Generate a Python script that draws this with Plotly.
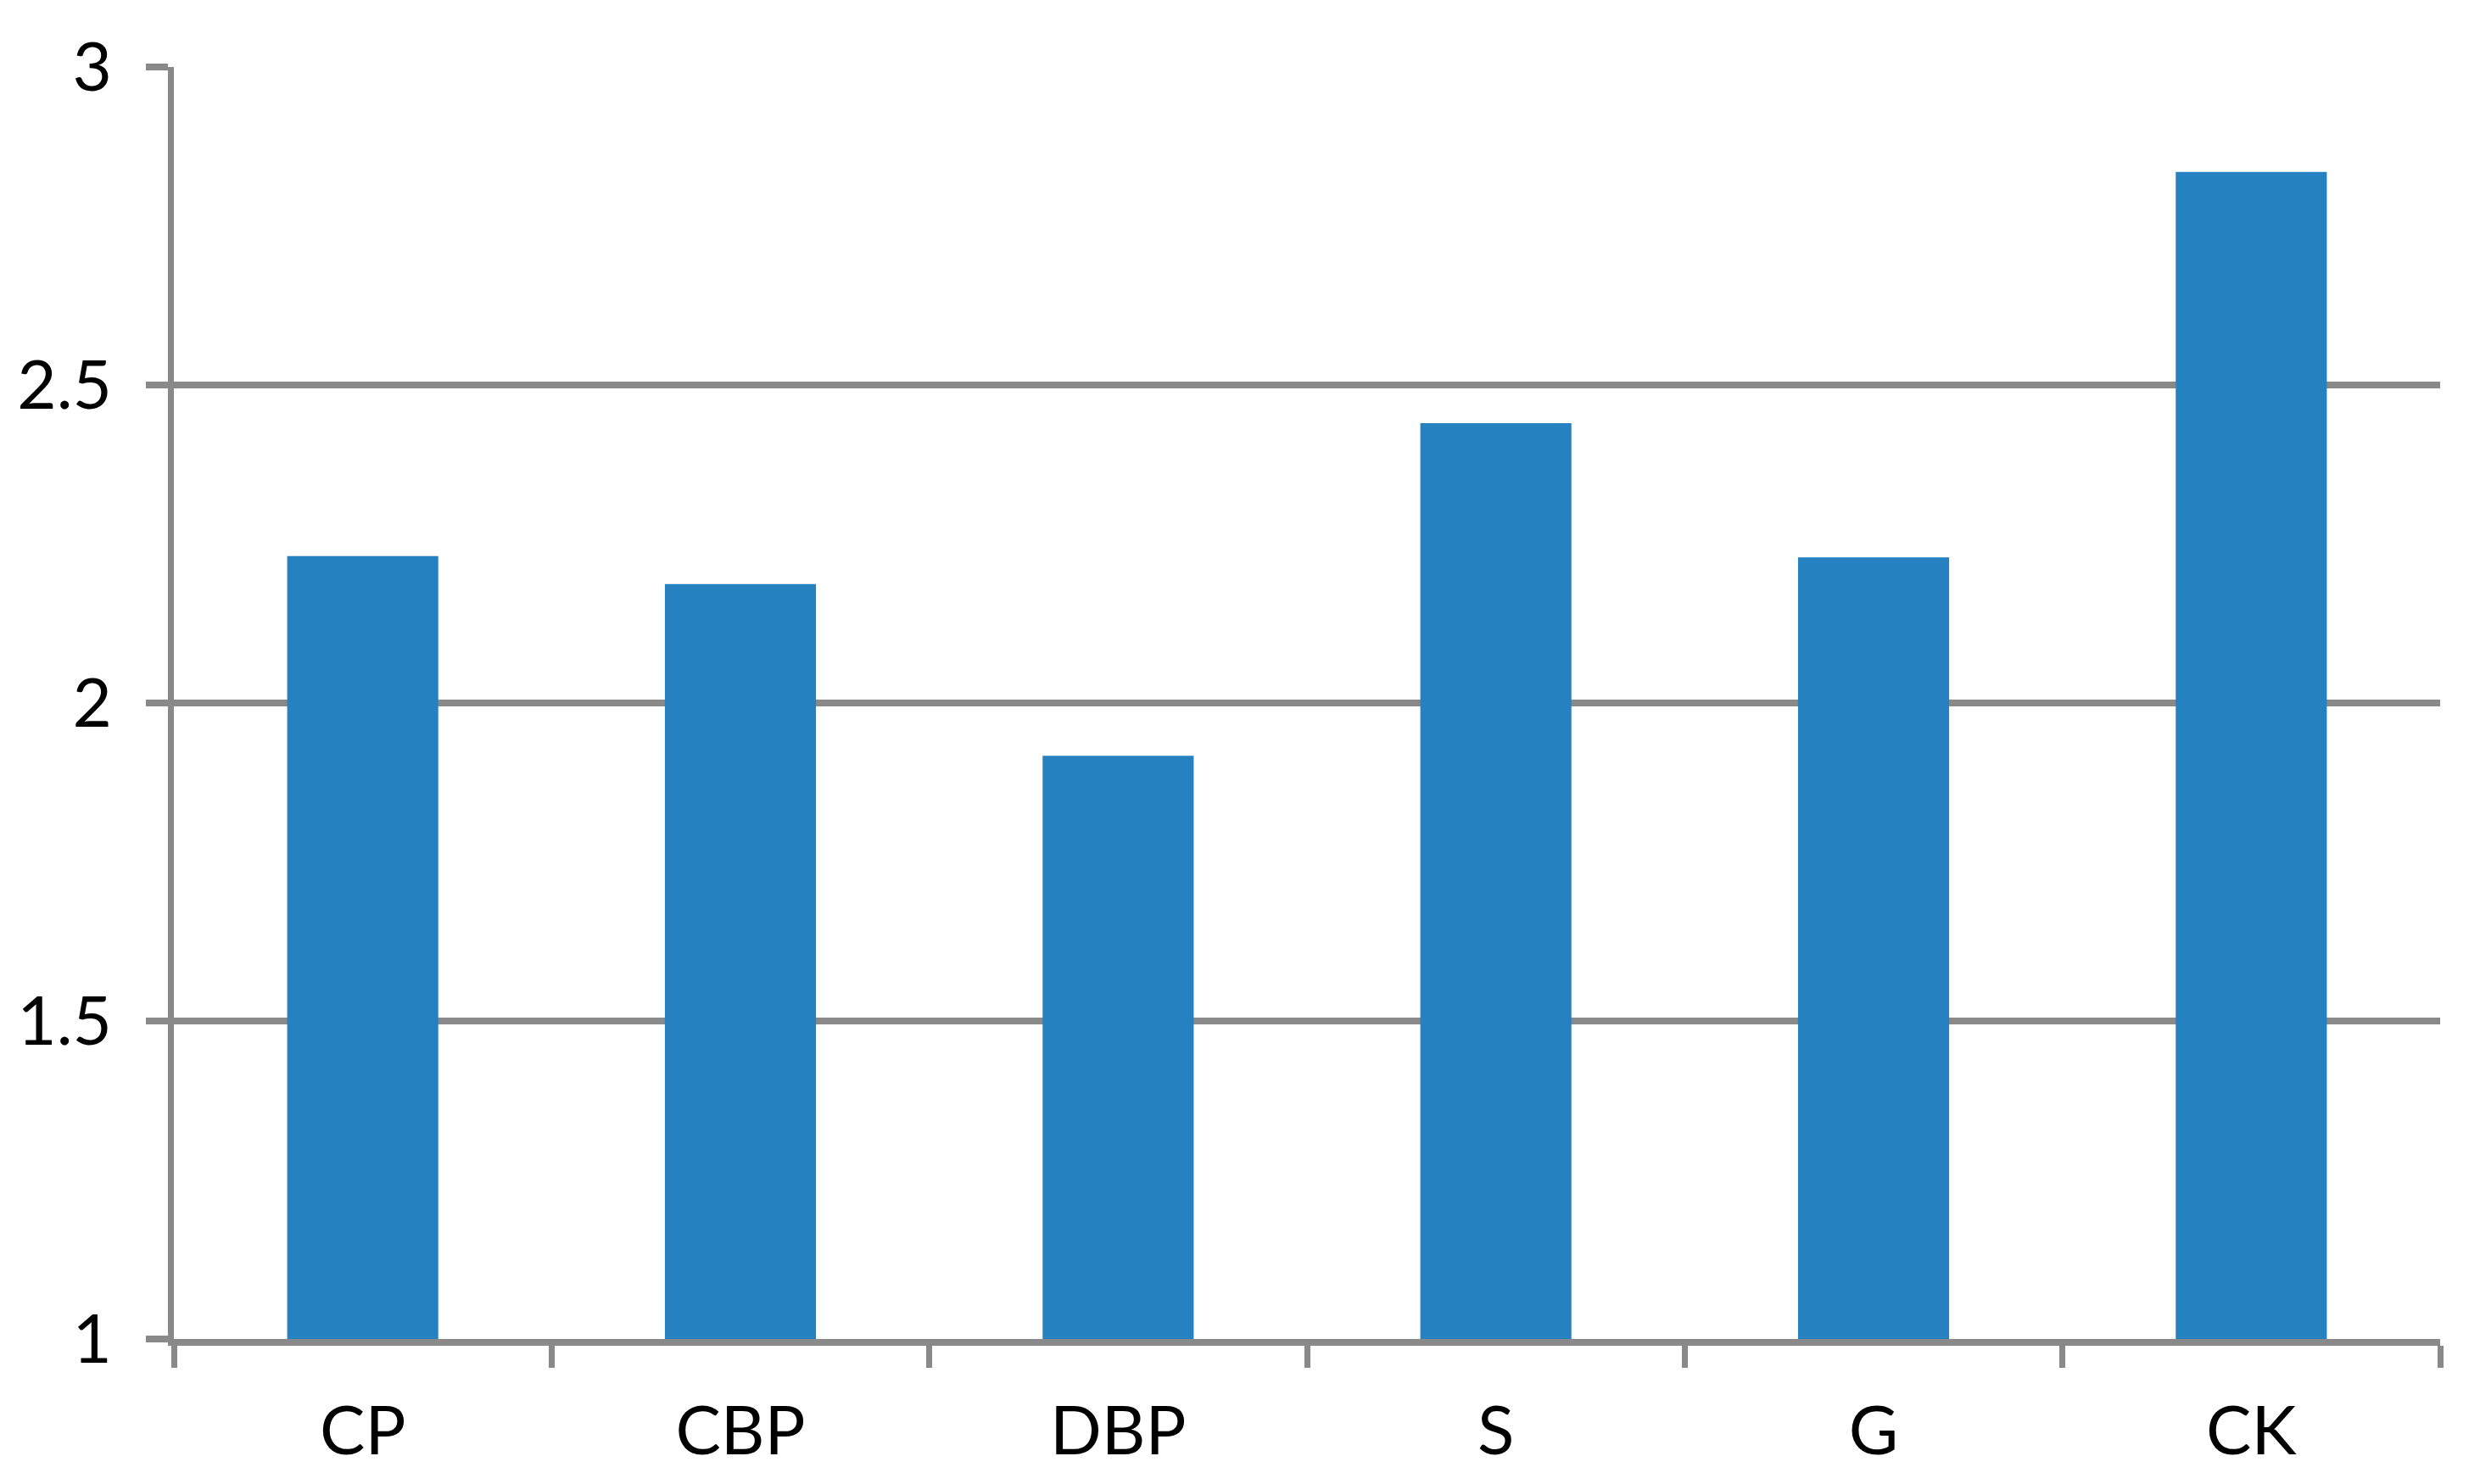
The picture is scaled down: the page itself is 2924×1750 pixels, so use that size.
import plotly.graph_objects as go

categories = ["CP", "CBP", "DBP", "S", "G", "CK"]
values = [2.231, 2.187, 1.917, 2.440, 2.229, 2.835]
y_ticks = [1, 1.5, 2, 2.5, 3]
y_tick_labels = ["1", "1.5", "2", "2.5", "3"]

grey = "#898989"
font = dict(family="Lato, Noto Sans, sans-serif", size=80, color="#000000")

fig = go.Figure(go.Bar(x=categories, y=values, marker=dict(color="#2581C0", line=dict(width=0))))

fig.update_layout(
    width=2916, height=1742,
    margin=dict(l=197, r=47, t=71, b=171, autoexpand=False),
    paper_bgcolor="white", plot_bgcolor="white",
    bargap=0.6, showlegend=False, font=font,
)
fig.update_xaxes(
    type="category", range=[-0.5, 5.5], showline=True, linecolor=grey, linewidth=7.5,
    ticks="outside", tickson="boundaries", ticklen=26, tickwidth=7, tickcolor=grey,
    showgrid=False, ticklabelstandoff=32, tickfont=font,
)
fig.update_yaxes(
    range=[1, 3], tickvals=y_ticks, ticktext=y_tick_labels, showline=True, linecolor=grey, linewidth=7,
    ticks="outside", ticklen=26, tickwidth=7.5, tickcolor=grey,
    showgrid=True, gridcolor=grey, gridwidth=7.5, zeroline=False,
    ticklabelstandoff=24, tickfont=font,
)
fig.write_html("out.html")
